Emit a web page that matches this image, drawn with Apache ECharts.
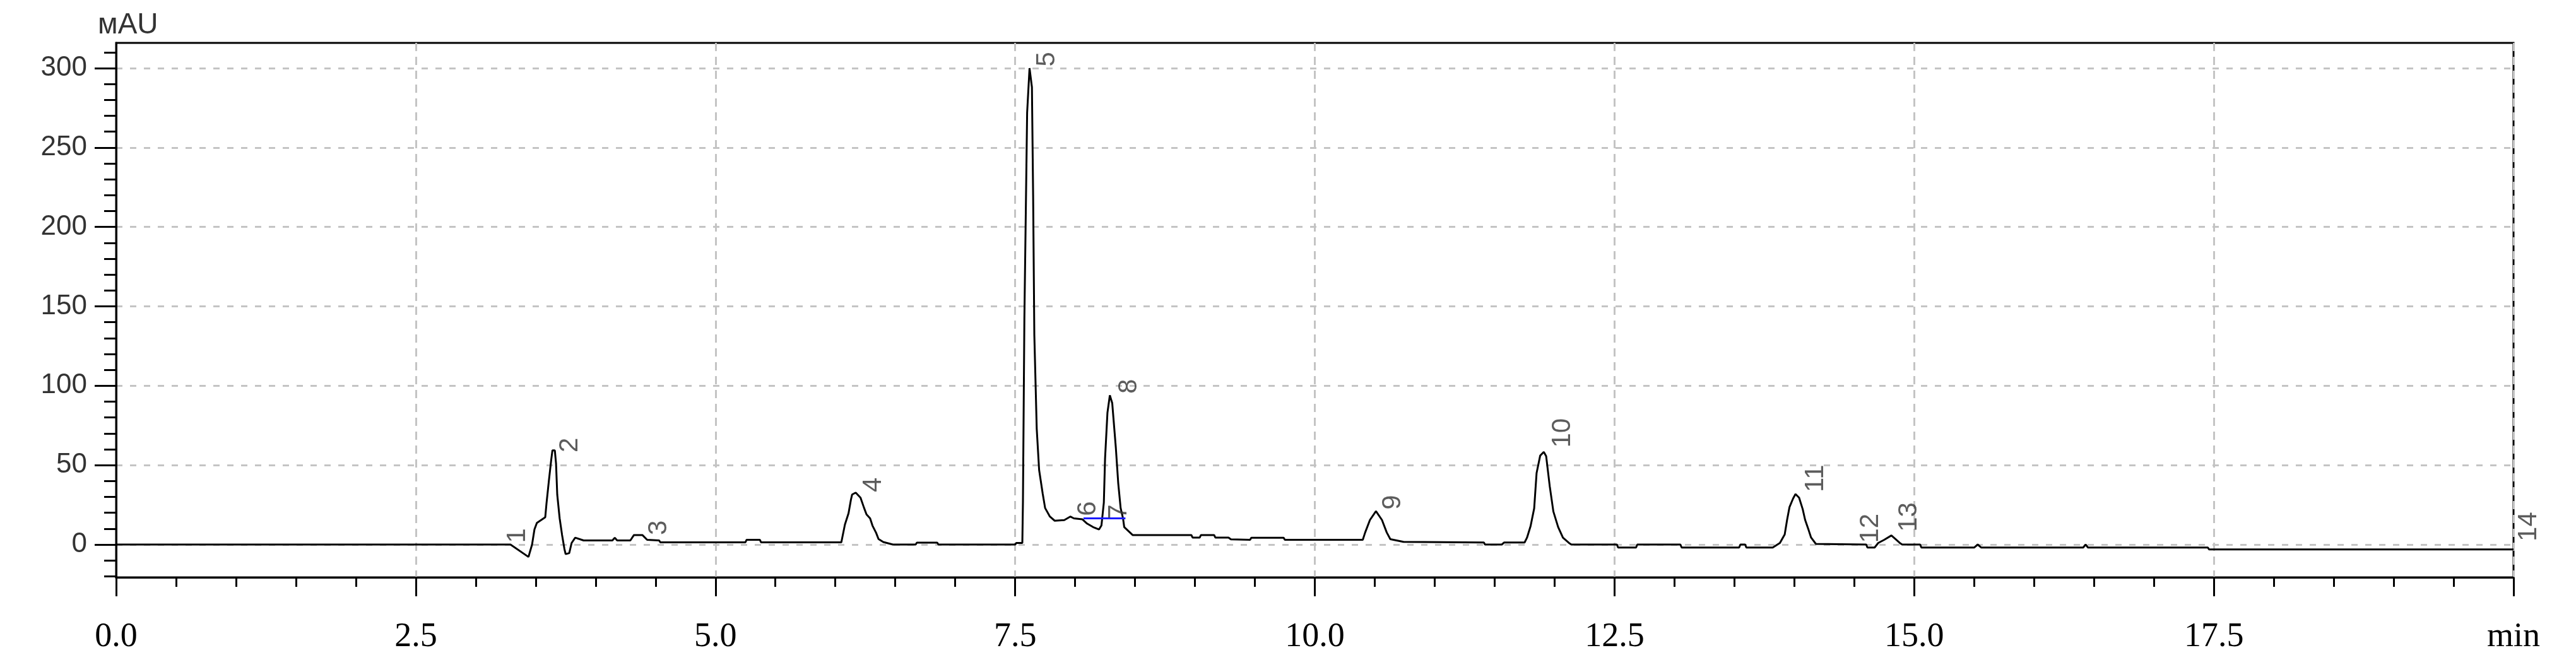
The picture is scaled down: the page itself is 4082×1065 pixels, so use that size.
<!DOCTYPE html>
<html>
<head>
<meta charset="utf-8">
<script src="https://cdn.jsdelivr.net/npm/echarts@6/dist/echarts.min.js"></script>
<style>
html,body{margin:0;padding:0;background:#fff;}
#chart{width:4082px;height:1065px;}
</style>
</head>
<body>
<div id="chart"></div>
<script>
// Chromatogram trace: [time (min), signal (mAU)]
const trace = [
  [0,0],[3.29,0],[3.44,-7.8],[3.47,0],[3.49,9.5],[3.51,13.6],[3.58,17.2],[3.59,25.6],[3.61,40],[3.63,53.5],
  [3.64,59.3],[3.66,59.3],[3.67,51],[3.68,31.5],[3.70,16.6],[3.72,6.2],[3.74,-2.8],[3.75,-6],[3.78,-5.4],[3.80,1],
  [3.83,4.3],[3.90,2.6],[4.14,2.6],[4.16,4.3],[4.18,2.6],[4.29,2.6],[4.32,6],[4.39,6],[4.43,3],[4.53,2.6],
  [4.54,1.4],[5.25,1.4],[5.26,3],[5.37,3],[5.38,1.4],[6.05,1.4],[6.08,12.6],[6.11,19.7],[6.13,28.2],[6.14,31.5],
  [6.17,32.7],[6.21,29.5],[6.24,23],[6.26,19],[6.29,16.5],[6.31,11.9],[6.34,7.4],[6.36,3.5],[6.40,1.6],[6.48,0],
  [6.67,0],[6.68,1.2],[6.85,1.2],[6.86,0],[7.50,0],[7.51,1],[7.56,1],[7.565,26.5],[7.577,142],[7.60,272],
  [7.62,300],[7.64,288],[7.65,220],[7.66,132],[7.68,73],[7.70,47],[7.73,32],[7.75,23],[7.79,17.6],[7.83,15],
  [7.91,15.4],[7.96,17.6],[7.99,16.5],[8.06,15.9],[8.10,13.2],[8.15,11],[8.20,9.5],[8.22,12],[8.24,26.5],[8.25,54],
  [8.27,83],[8.29,94],[8.31,89],[8.34,61],[8.36,38.6],[8.38,23],[8.40,16.5],[8.41,11],[8.48,6],[8.97,6],
  [8.98,4.4],[9.04,4.4],[9.05,6],[9.16,6],[9.17,4.4],[9.28,4.4],[9.30,3.3],[9.46,3],[9.47,4.3],[9.74,4.3],
  [9.75,3],[10.40,3],[10.42,7.6],[10.46,15.5],[10.51,21],[10.56,15.5],[10.60,7.6],[10.63,3.4],[10.74,1.7],[10.75,1.3],
  [11.41,1.3],[11.42,0],[11.56,0],[11.58,1.3],[11.75,1.3],[11.77,4.3],[11.80,11.6],[11.83,22.8],[11.85,45],[11.88,56],
  [11.91,58.3],[11.93,55.6],[11.96,36.6],[11.99,20.8],[12.03,11],[12.07,4.3],[12.12,1],[12.14,0],[12.52,0],[12.53,-1.9],
  [12.68,-1.9],[12.69,0],[13.05,0],[13.06,-1.9],[13.54,-1.9],[13.55,0],[13.59,0],[13.60,-1.9],[13.82,-1.9],[13.88,1],
  [13.92,6.4],[13.94,15.6],[13.96,23.6],[13.99,29],[14.01,31.8],[14.04,29.5],[14.07,22.3],[14.09,15.6],[14.12,9],[14.14,4.4],
  [14.18,0.4],[14.60,0],[14.61,-1.9],[14.67,-1.9],[14.70,1],[14.75,3],[14.81,5.7],[14.84,3.7],[14.88,1],[14.90,0],
  [15.05,0],[15.06,-1.9],[15.50,-1.9],[15.53,0],[15.56,-1.9],[16.41,-1.9],[16.43,0],[16.45,-1.9],[17.45,-1.9],[17.46,-3.1],
  [20,-3.1]
];

// Integration baseline drawn in blue under peaks 6-8
const baselineTimes = [8.07, 8.42];
const baselineLevels = [16.5, 16.5];

// Peak numbers and where their (rotated) labels start
const peakNames = ['1','2','3','4','5','6','7','8','9','10','11','12','13','14'];
const peakLabelTimes = [3.35, 3.79, 4.53, 6.32, 7.77, 8.11, 8.37, 8.45, 10.65, 12.07, 14.18, 14.64, 14.96, 20.13];
const peakLabelLevels = [1, 58, 6, 33, 301, 18, 16, 95, 22, 61, 33, 1, 8, 2];

// Axis ticks
const yMinorTicks = [-20,-10,0,10,20,30,40,50,60,70,80,90,100,110,120,130,140,150,160,170,180,190,200,210,220,230,240,250,260,270,280,290,300,310];
const yMajorTicks = [0,50,100,150,200,250,300];
const yRange = [-20.66, 315.9];
const xRange = [0, 20];
const xMinorStep = 0.5;
const xMajorStep = 2.5;

const chart = echarts.init(document.getElementById('chart'), null, {renderer: 'canvas'});

const labelData = peakNames.map((n, i) => ({name: n, value: [peakLabelTimes[i], peakLabelLevels[i]]}));
const baselineData = baselineTimes.map((t, i) => [t, baselineLevels[i]]);

const gridLineH = {show: true, lineStyle: {color: '#c4c4c4', width: 3, type: [10, 12]}};
const gridLineV = {show: true, lineStyle: {color: '#c4c4c4', width: 3, type: [13, 9]}};

chart.setOption({
  animation: false,
  backgroundColor: '#fff',
  title: {
    text: 'мAU',
    left: 150, top: 12,
    textStyle: {fontFamily: 'Liberation Sans', fontSize: 46, fontWeight: 'normal', color: '#333'}
  },
  grid: {
    left: 184, right: 99, top: 68, bottom: 150,
    show: true, borderColor: '#000', borderWidth: 3, backgroundColor: 'transparent'
  },
  xAxis: [
    {
      type: 'value', min: xRange[0], max: xRange[1], interval: xMinorStep, position: 'bottom',
      axisLine: {show: true, onZero: false, lineStyle: {color: '#000', width: 3}},
      axisTick: {show: true, length: 15, lineStyle: {color: '#000', width: 3}},
      axisLabel: {show: false},
      splitLine: {show: false}
    },
    {
      type: 'value', min: xRange[0], max: xRange[1], interval: xMajorStep, position: 'bottom', offset: 0,
      axisLine: {show: false, onZero: false},
      axisTick: {show: true, length: 30, lineStyle: {color: '#000', width: 3}},
      axisLabel: {
        show: true, margin: 68, fontFamily: 'Liberation Serif', fontSize: 54, color: '#000',
        formatter: v => (v === 20 ? 'min' : v.toFixed(1))
      },
      splitLine: gridLineV
    }
  ],
  yAxis: [
    {
      type: 'value', min: yRange[0], max: yRange[1], position: 'left',
      axisLine: {show: true, onZero: false, lineStyle: {color: '#000', width: 3}},
      axisTick: {show: true, length: 19, customValues: yMinorTicks, lineStyle: {color: '#000', width: 3}},
      axisLabel: {show: false},
      splitLine: {show: false}
    },
    {
      type: 'value', min: yRange[0], max: yRange[1], position: 'left', offset: 0,
      axisLine: {show: false, onZero: false},
      axisTick: {show: true, length: 34, customValues: yMajorTicks, lineStyle: {color: '#000', width: 3}},
      axisLabel: {show: true, customValues: yMajorTicks, margin: 46, fontFamily: 'Liberation Sans', fontSize: 44, color: '#333'},
      splitLine: gridLineH
    }
  ],
  series: [
    {
      name: 'signal', type: 'line', xAxisIndex: 0, yAxisIndex: 0,
      data: trace, showSymbol: false, symbol: 'none',
      lineStyle: {color: '#000', width: 3}, z: 3
    },
    {
      name: 'baseline', type: 'line', xAxisIndex: 0, yAxisIndex: 0,
      data: baselineData, showSymbol: false, symbol: 'none',
      lineStyle: {color: '#1a1aff', width: 3}, z: 4
    },
    {
      name: 'peaks', type: 'scatter', xAxisIndex: 0, yAxisIndex: 0,
      data: labelData, symbolSize: 0, clip: false, silent: true, z: 5,
      label: {
        show: true, position: 'inside', rotate: 90, align: 'left', verticalAlign: 'middle',
        formatter: '{b}', fontFamily: 'Liberation Sans', fontSize: 42, color: '#333'
      }
    }
  ]
});
</script>
</body>
</html>
